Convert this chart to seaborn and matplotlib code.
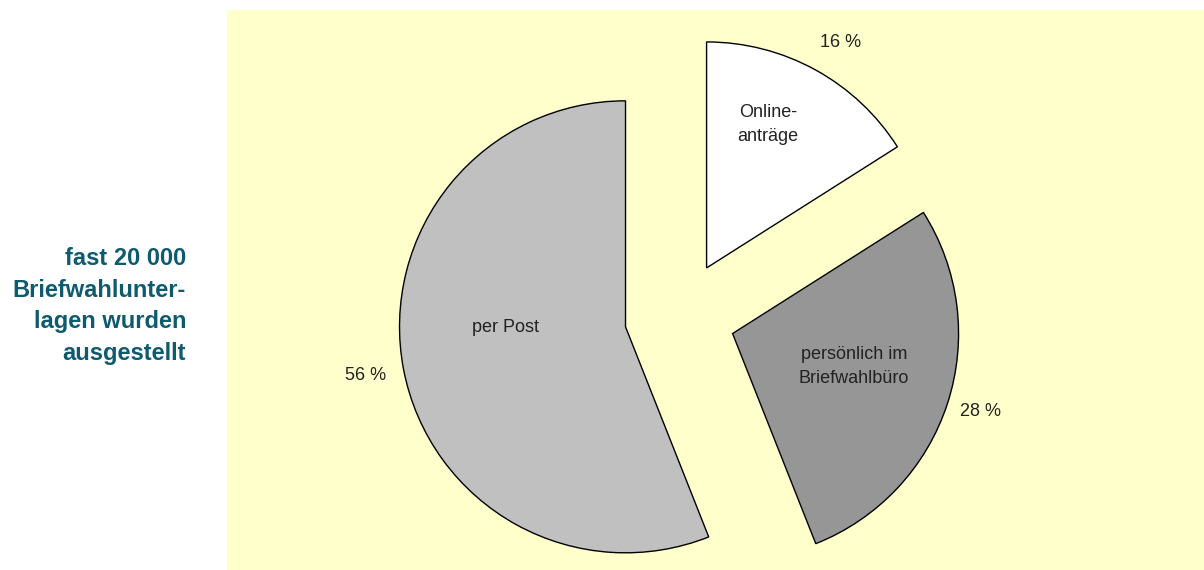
import matplotlib
matplotlib.use("Agg")
import matplotlib.pyplot as plt
import seaborn as sns

# Anteile der ausgestellten Briefwahlunterlagen
categories = ["per Post", "persönlich im\nBriefwahlbüro", "Online-\nanträge"]
shares = [56, 28, 16]
slice_colors = ["#c0c0c0", "#969696", "#ffffff"]

# where the name and the percentage sit (data units, radius = 1)
name_pos = [(-0.77, -0.05), (0.77, -0.22), (0.39, 0.85)]
pct_pos = [(-1.39, -0.26), (1.33, -0.42), (0.71, 1.21)]

sns.set_style("white")
plt.rcParams["font.family"] = ["Liberation Sans", "DejaVu Sans"]

fig = plt.figure(figsize=(12.04, 5.70), dpi=100)
ax = fig.add_axes([227 / 1204, 0, 1 - 227 / 1204, 560 / 570])

wedges, texts, autotexts = ax.pie(
    shares,
    labels=categories,
    colors=slice_colors,
    startangle=90,
    counterclock=True,
    explode=[0.245] * len(shares),
    autopct=lambda p: f"{p:.0f} %",
    wedgeprops=dict(edgecolor="black", linewidth=1),
    textprops=dict(fontsize=13, color="#222222"),
)

for t, pos in zip(texts, name_pos):
    t.set_position(pos)
    t.set_ha("center")
    t.set_va("center")
    t.set_linespacing(1.55)
for t, pos in zip(autotexts, pct_pos):
    t.set_position(pos)
    t.set_ha("center")
    t.set_va("center")

ax.set_aspect("auto")
ax.set_xlim(-2.004, 2.319)
ax.set_ylim(-1.122, 1.356)
ax.set_frame_on(True)
ax.set_facecolor("#ffffcc")
for s in ax.spines.values():
    s.set_visible(False)

fig.text(186 / 1204, 1 - 306 / 570,
         "fast 20 000\nBriefwahlunter-\nlagen wurden\nausgestellt",
         ha="right", va="center", fontsize=17, fontweight="bold",
         color="#0e5a6e", linespacing=1.48)

fig.savefig("out.png", dpi=100)
